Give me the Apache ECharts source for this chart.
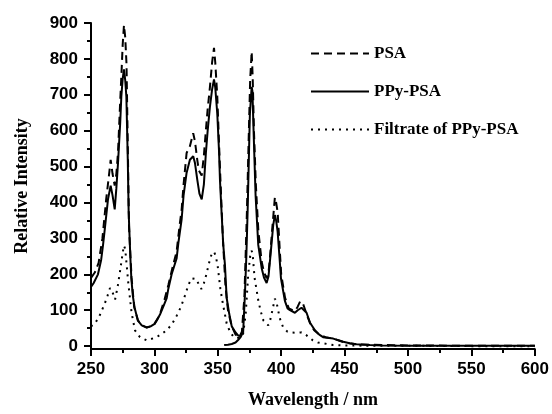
<!DOCTYPE html>
<html>
<head>
<meta charset="utf-8">
<script src="https://cdn.jsdelivr.net/npm/echarts@6/dist/echarts.min.js"></script>
<style>
  html, body { margin: 0; padding: 0; background: #fff; }
  #spectra { width: 552px; height: 414px; }
</style>
</head>
<body>
<div id="spectra"></div>
<script>
// PSA (dashed)
var psaWl = [250, 253, 256, 259, 262, 264, 265.5, 267, 268.7, 270, 271.3, 273, 274, 275, 276, 277, 278, 279, 280, 282, 284, 287, 290, 294, 297, 300, 304, 308, 311, 314, 317.5, 320, 321.5, 323, 325.4, 328, 330.6, 332, 333.8, 335, 337.3, 339, 340.6, 342, 343.8, 345.5, 347, 348, 349.6, 351, 352, 354, 356, 358, 361, 364, 367, 369, 371, 373, 374.5, 375.5, 376.7, 377.5, 378.5, 380, 382, 384.6, 386.5, 388.5, 390, 391.1, 393, 395, 396, 397.2, 399, 400, 403, 406, 409, 411, 413, 415, 417, 419, 421, 423, 426, 430, 435, 441, 446, 450, 455, 460, 470, 480, 500, 550, 600];
var psaVal = [190, 205, 232, 300, 410, 470, 519, 480, 447, 480, 540, 680, 757, 840, 894, 860, 785, 560, 330, 190, 110, 72, 58, 52, 55, 62, 85, 130, 170, 215, 263, 340, 381, 450, 538, 557, 593, 570, 519, 490, 475, 530, 601, 660, 722, 790, 831, 790, 694, 560, 470, 300, 170, 100, 55, 32, 25, 40, 140, 380, 600, 740, 820, 750, 600, 450, 320, 235, 205, 189, 205, 245, 330, 414, 400, 373, 260, 200, 135, 105, 100, 98, 110, 125, 120, 100, 80, 62, 44, 32, 25, 21, 15, 10, 7, 5, 4, 3, 2, 1, 1];

// PPy-PSA (solid), null = gap between the two scans
var ppyWl = [250, 252, 255.5, 258, 259.5, 261, 263.4, 265.5, 267, 268.7, 270, 271.3, 273, 273.9, 275, 276, 277, 277.9, 279, 279.7, 281, 281.8, 283, 284.4, 287, 290, 293.6, 297, 300.2, 302, 304.4, 307, 309.7, 311, 313.6, 317.5, 319, 321.5, 323, 325.4, 328, 330.6, 332, 333.8, 335.5, 337.3, 339, 340.6, 342, 343.8, 345.5, 347, 348, 349.6, 351, 351.7, 353, 354.3, 355.6, 357, 359, 361, 364, 366, 368, 368.5,
  355, 358, 361, 364, 366, 368, 370, 371.4, 372.5, 373.5, 375.3, 376.7, 377.3, 378.2, 379.8, 381.9, 384.6, 386.5, 388.5, 390, 391.1, 393.7, 395, 396, 397.2, 399, 399.8, 402.9, 405, 406.9, 408, 410.8, 413, 416, 418, 420, 422.6, 426.6, 430, 433, 441, 448.9, 454, 459.4, 470, 480, 501, 550, 600];
var ppyVal = [165, 175, 200, 240, 282, 330, 409, 447, 420, 381, 440, 510, 620, 694, 745, 771, 740, 694, 520, 373, 250, 189, 140, 107, 71, 58, 52, 55, 62, 72, 88, 110, 134, 160, 200, 244, 290, 354, 420, 483, 519, 529, 510, 464, 425, 409, 450, 538, 600, 667, 715, 743, 720, 647, 540, 463, 370, 282, 228, 134, 90, 55, 38, 30, 27, null,
  3, 4, 6, 10, 17, 25, 40, 145, 250, 373, 647, 722, 710, 601, 420, 282, 217, 190, 176, 195, 236, 337, 365, 350, 318, 230, 189, 126, 105, 100, 100, 93, 100, 107, 100, 93, 66, 44, 32, 25, 21, 12, 8, 5, 3, 2, 1, 1, 1];

// Filtrate of PPy-PSA (dotted)
var filtWl = [250, 253, 256.8, 260.8, 263, 265, 267, 269, 271, 273, 275, 276, 277, 279.4, 282, 284.7, 288.6, 294, 301.8, 309.7, 314, 317.6, 321, 324, 327, 329.4, 333, 335, 337, 339, 341, 343, 345, 347, 348.5, 350, 352, 354, 357, 359.6, 362, 364.8, 368, 370, 372, 374, 375.5, 376.7, 377.5, 379, 382, 384, 386, 389.8, 391.5, 393, 395, 396.2, 397.6, 399.5, 401.6, 405, 408, 412, 416, 420, 425, 429, 433, 441, 450, 470, 500, 550, 600];
var filtVal = [55, 62, 85, 118, 140, 162, 150, 130, 165, 211, 260, 280, 270, 176, 93, 44, 25, 16, 25, 44, 62, 85, 110, 140, 172, 189, 187, 172, 159, 175, 200, 230, 255, 263, 250, 220, 160, 118, 63, 40, 28, 22, 25, 35, 90, 200, 250, 266, 255, 190, 126, 95, 71, 58, 75, 99, 132, 125, 99, 70, 52, 40, 38, 37, 38, 30, 16, 10, 8, 3, 2, 1, 1, 0, 0];

var yTicks = [0, 100, 200, 300, 400, 500, 600, 700, 800, 900];
var yMinorTicks = [50, 150, 250, 350, 450, 550, 650, 750, 850];

function pairs(xs, ys) {
  var out = [];
  for (var i = 0; i < xs.length; i++) {
    out.push([xs[i], ys[i] == null ? '-' : ys[i]]);
  }
  return out;
}

var chart = echarts.init(document.getElementById('spectra'));

var labelFont = {
  color: '#000',
  fontFamily: 'Liberation Sans, Arial, sans-serif',
  fontWeight: 'bold',
  fontSize: 17
};
var nameFont = {
  color: '#000',
  fontFamily: 'Liberation Serif, Times New Roman, serif',
  fontWeight: 'bold',
  fontSize: 18
};

var option = {
  animation: false,
  backgroundColor: '#fff',
  grid: { left: 91, right: 17, top: 23, bottom: 60, containLabel: false },
  legend: {
    orient: 'vertical',
    left: 305,
    top: 40,
    itemWidth: 58,
    itemHeight: 14,
    itemGap: 21,
    itemStyle: { opacity: 0 },
    textStyle: {
      color: '#000',
      fontFamily: 'Liberation Serif, Times New Roman, serif',
      fontWeight: 'bold',
      fontSize: 17,
      padding: [0, 0, 0, 0]
    },
    data: ['PSA', 'PPy-PSA', 'Filtrate of PPy-PSA']
  },
  xAxis: {
    type: 'value',
    min: 250,
    max: 600,
    interval: 50,
    name: 'Wavelength / nm',
    nameLocation: 'middle',
    nameGap: 42,
    nameTextStyle: nameFont,
    axisLine: { onZero: false, lineStyle: { color: '#000', width: 2 } },
    axisTick: { length: 7, lineStyle: { color: '#000', width: 2 } },
    minorTick: { show: true, splitNumber: 2, length: 4, lineStyle: { color: '#000', width: 2 } },
    axisLabel: Object.assign({ margin: 12 }, labelFont),
    splitLine: { show: false }
  },
  yAxis: [{
    type: 'value',
    min: -8,
    max: 900,
    name: 'Relative Intensity',
    nameLocation: 'middle',
    nameGap: 60,
    nameTextStyle: nameFont,
    axisLine: { show: true, lineStyle: { color: '#000', width: 2 } },
    axisTick: { show: true, length: 7, customValues: yTicks, lineStyle: { color: '#000', width: 2 } },
    axisLabel: Object.assign({ margin: 13, customValues: yTicks }, labelFont),
    splitLine: { show: false }
  }, {
    type: 'value',
    min: -8,
    max: 900,
    position: 'left',
    axisLine: { show: false },
    axisTick: { show: true, length: 4, customValues: yMinorTicks, lineStyle: { color: '#000', width: 2 } },
    axisLabel: { show: false },
    splitLine: { show: false }
  }],
  series: [{
    name: 'PSA',
    type: 'line',
    symbol: 'none',
    data: pairs(psaWl, psaVal),
    lineStyle: { color: '#000', width: 2, type: [8, 5] },
    itemStyle: { color: '#000' }
  }, {
    name: 'PPy-PSA',
    type: 'line',
    symbol: 'none',
    data: pairs(ppyWl, ppyVal),
    lineStyle: { color: '#000', width: 2, type: 'solid' },
    itemStyle: { color: '#000' }
  }, {
    name: 'Filtrate of PPy-PSA',
    type: 'line',
    symbol: 'none',
    data: pairs(filtWl, filtVal),
    lineStyle: { color: '#000', width: 2, type: [2, 5] },
    itemStyle: { color: '#000' }
  }]
};

chart.setOption(option);
</script>
</body>
</html>
